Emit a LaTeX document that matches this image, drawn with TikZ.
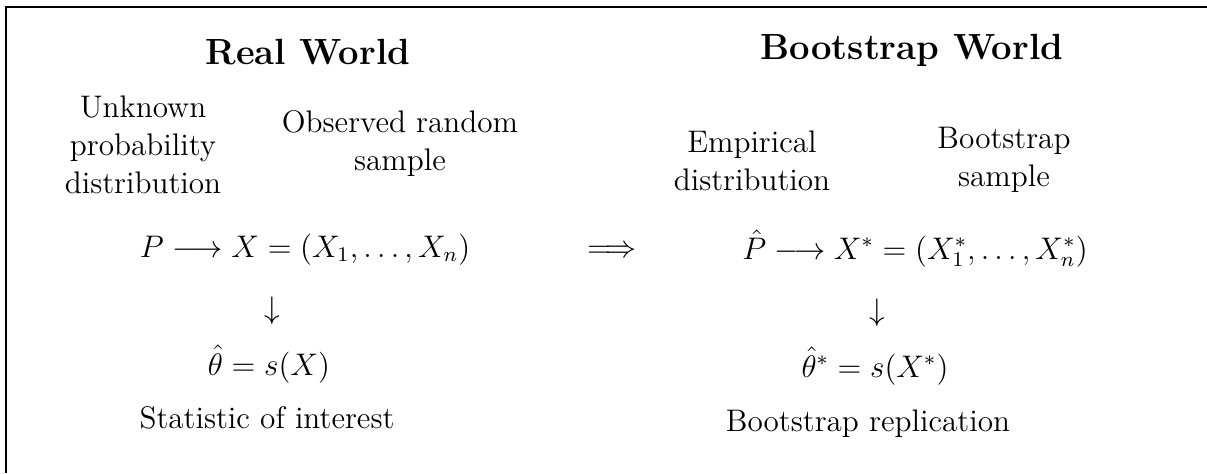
\documentclass[tikz,border=0pt,12pt]{standalone}
\usepackage{amsmath}
\begin{document}
\begin{tikzpicture}[x=0.3846pt,y=-0.3846pt,
  every node/.style={inner sep=0pt, outer sep=0pt},
  title/.style={font=\fontsize{14pt}{17pt}\selectfont\bfseries, anchor=base},
  lbl/.style={align=center, anchor=base},
  eq/.style={anchor=base},
  frame/.style={line width=0.8pt}]
\useasboundingbox (0,0) rectangle (1207,473);
\coordinate (tl) at (6,7);
\coordinate (tr) at (1207,7);
\coordinate (bl) at (6,473);
\draw[frame] (tr) -- (tl) -- (bl);
\node[title] (rw) at (308,64) {Real World};
\node[title] (bw) at (912,59) {Bootstrap World};
% base anchor of a multi-line node = baseline of its last line
\node[lbl] (unk) at (143,193) {Unknown\\probability\\distribution};
\node[lbl] (obs) at (400,170) {Observed random\\sample};
\node[lbl] (emp) at (752,190) {Empirical\\distribution};
\node[lbl] (bs) at (1004,186) {Bootstrap\\sample};
\node[eq] (pl) at (305,257) {$P \longrightarrow X = (X_1,\ldots,X_n)$};
\node[eq] (imp) at (612,257) {$\Longrightarrow$};
\node[eq] (pr) at (915,259) {$\hat{P} \longrightarrow X^* = (X_1^*,\ldots,X_n^*)$};
\node[eq] (da1) at (272,318) {$\downarrow$};
\node[eq] (da2) at (877,320) {$\downarrow$};
\node[eq] (th) at (269,375) {$\hat{\theta} = s(X)$};
\node[eq] (ths) at (875,377) {$\hat{\theta}^* = s(X^*)$};
\node[eq] (st) at (267,428) {Statistic of interest};
\node[eq] (br) at (868,431) {Bootstrap replication};
\end{tikzpicture}
\end{document}
